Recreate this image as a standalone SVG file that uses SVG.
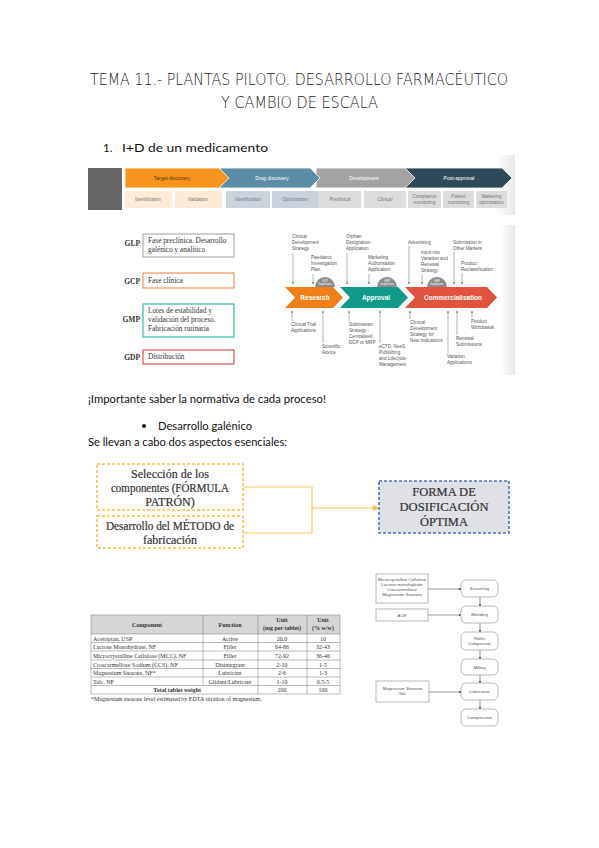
<svg xmlns="http://www.w3.org/2000/svg" width="599" height="848" viewBox="0 0 599 848">
<style>
.title{font-family:"DejaVu Sans",sans-serif;font-size:15px;fill:#222;font-weight:300}
.body{font-family:Lato,"Open Sans",sans-serif;font-size:11.5px;fill:#111}
.ban{font-family:"Liberation Sans",sans-serif;font-size:5px;fill:#fff;text-anchor:middle}
.sub{font-family:"Liberation Sans",sans-serif;font-size:4.6px;fill:#777;text-anchor:middle}
.gl{font-family:"Liberation Serif",serif;font-size:7.5px;font-weight:bold;fill:#333;text-anchor:end}
.gt{font-family:"Liberation Serif",serif;font-size:7.3px;fill:#333}
.rl{font-family:"Liberation Sans",sans-serif;font-size:4.6px;fill:#555}
.rw{font-family:"Liberation Sans",sans-serif;font-size:6.5px;font-weight:bold;fill:#fff;text-anchor:middle}
.ins{font-family:"Liberation Sans",sans-serif;font-size:2.6px;fill:#fff;text-anchor:middle}
.rline{stroke:#666;stroke-width:0.5;fill:none}
.tm{font-family:"Liberation Serif",serif;font-size:12px;fill:#333;text-anchor:middle;stroke:#333;stroke-width:0.2}
.tf{font-family:"Liberation Serif",serif;font-size:12.5px;fill:#333;text-anchor:middle;stroke:#333;stroke-width:0.2}
.tb{font-family:"Liberation Serif",serif;font-size:6px;fill:#333}
.tbh{font-family:"Liberation Serif",serif;font-size:6px;fill:#333;font-weight:bold;text-anchor:middle}
.fc{font-family:"Liberation Sans",Arial,sans-serif;font-size:4.3px;fill:#555;text-anchor:middle}
.fbox{fill:#fff;stroke:#999;stroke-width:0.7}
.fl{stroke:#555;stroke-width:0.6;fill:none}
</style>
<defs>
<marker id="sa" viewBox="0 0 6 6" refX="5" refY="3" markerWidth="4" markerHeight="4" orient="auto"><path d="M0,0 L6,3 L0,6 z" fill="#666"/></marker>
<marker id="fa" viewBox="0 0 6 6" refX="5" refY="3" markerWidth="4" markerHeight="4" orient="auto"><path d="M0,0 L6,3 L0,6 z" fill="#444"/></marker>
<marker id="ya" viewBox="0 0 6 6" refX="5" refY="3" markerWidth="5" markerHeight="5" orient="auto"><path d="M0,0 L6,3 L0,6 z" fill="#f5c242"/></marker>
<linearGradient id="shade" x1="0" x2="1" y1="0" y2="0"><stop offset="0" stop-color="#fff"/><stop offset="1" stop-color="#e8e8e8"/></linearGradient>
</defs>
<rect width="599" height="848" fill="#fff"/>

<!-- Title -->
<text class="title" x="299" y="85" text-anchor="middle" textLength="418" lengthAdjust="spacingAndGlyphs">TEMA 11.- PLANTAS PILOTO. DESARROLLO FARMACÉUTICO</text>
<text class="title" x="299.5" y="108" text-anchor="middle" textLength="157" lengthAdjust="spacingAndGlyphs">Y CAMBIO DE ESCALA</text>

<text class="body" x="103" y="152">1.</text>
<text class="body" x="122" y="152" textLength="146" lengthAdjust="spacingAndGlyphs">I+D de un medicamento</text>

<!-- Banner -->
<g id="banner">
<rect x="495" y="155" width="20" height="60" fill="url(#shade)"/>
<rect x="88" y="168" width="34" height="42" fill="#666"/>
<polygon points="405,168 502,168 512,178 502,188 405,188" fill="#2e4a5a" stroke="#fff" stroke-width="0.8"/>
<polygon points="316,168 405,168 415,178 405,188 316,188" fill="#a3a3a3" stroke="#fff" stroke-width="0.8"/>
<polygon points="220,168 310,168 320,178 310,188 220,188" fill="#5d8ca6" stroke="#fff" stroke-width="0.8"/>
<polygon points="125,168 219,168 229,178 219,188 125,188" fill="#f7941d" stroke="#fff" stroke-width="0.8"/>
<text class="ban" x="172" y="180" style="fill:#5a3a10">Target discovery</text>
<text class="ban" x="272" y="180">Drug discovery</text>
<text class="ban" x="364" y="180">Development</text>
<text class="ban" x="459" y="180">Post-approval</text>
<rect x="125" y="191" width="47" height="17" fill="#fdebd8"/>
<rect x="175" y="191" width="47" height="17" fill="#fdebd8"/>
<rect x="226" y="191" width="44" height="17" fill="#c9d3de"/>
<rect x="272" y="191" width="46" height="17" fill="#c9d3de"/>
<rect x="318" y="191" width="43" height="17" fill="#dcdcdc"/>
<rect x="364" y="191" width="42" height="17" fill="#dcdcdc"/>
<rect x="408" y="191" width="33" height="17" fill="#dcdcdc"/>
<rect x="443" y="191" width="31" height="17" fill="#dcdcdc"/>
<rect x="476" y="191" width="31" height="17" fill="#dcdcdc"/>
<text class="sub" x="148" y="201">Identification</text>
<text class="sub" x="198" y="201">Validation</text>
<text class="sub" x="248" y="201">Identification</text>
<text class="sub" x="295" y="201">Optimization</text>
<text class="sub" x="340" y="201">Preclinical</text>
<text class="sub" x="385" y="201">Clinical</text>
<text class="sub" x="424.5" y="198">Compliance</text><text class="sub" x="424.5" y="203.5">monitoring</text>
<text class="sub" x="458.5" y="198">Patient</text><text class="sub" x="458.5" y="203.5">monitoring</text>
<text class="sub" x="491.5" y="198">Marketing</text><text class="sub" x="491.5" y="203.5">optimization</text>
</g>

<!-- GxP boxes -->
<g id="gxp">
<text class="gl" x="140" y="246">GLP</text>
<rect x="143" y="234" width="91" height="23" fill="#fff" stroke="#b5b5b5" stroke-width="1.3"/>
<text class="gt" x="148" y="243">Fase preclínica. Desarrollo</text>
<text class="gt" x="148" y="252">galénico y analítico</text>
<text class="gl" x="140" y="284">GCP</text>
<rect x="143" y="273" width="91" height="15" fill="#fff" stroke="#f19a6c" stroke-width="1.3"/>
<text class="gt" x="148" y="283">Fase clínica</text>
<text class="gl" x="140" y="322">GMP</text>
<rect x="143" y="304" width="91" height="33" fill="#fff" stroke="#48bfae" stroke-width="1.3"/>
<text class="gt" x="148" y="313">Lotes de estabilidad y</text>
<text class="gt" x="148" y="322">validación del proceso.</text>
<text class="gt" x="148" y="331">Fabricación rutinaria</text>
<text class="gl" x="140" y="360">GDP</text>
<rect x="143" y="350" width="91" height="14" fill="#fff" stroke="#d9605a" stroke-width="1.3"/>
<text class="gt" x="148" y="359">Distribución</text>
</g>

<!-- Regulatory lifecycle -->
<g id="lifecycle">
<rect x="500" y="225" width="15" height="150" fill="url(#shade)"/>
<path d="M315,287 a10,10 0 0 1 20,0 z" fill="#8c8c8c"/>
<path d="M377,287 a10,10 0 0 1 20,0 z" fill="#8c8c8c"/>
<path d="M427,287 a10,10 0 0 1 20,0 z" fill="#8c8c8c"/>
<text class="ins" x="325" y="282">GCP</text><text class="ins" x="325" y="285">Inspections</text>
<text class="ins" x="387" y="282">GMP</text><text class="ins" x="387" y="285">Inspections</text>
<text class="ins" x="437" y="282">GMP</text><text class="ins" x="437" y="285">Inspections</text>
<polygon points="285,287 333,287 343,297.5 333,308 285,308 295,297.5" fill="#f07f1a"/>
<polygon points="340,287 398,287 408,297.5 398,308 340,308 350,297.5" fill="#0f9a8b"/>
<polygon points="405,287 487,287 497,297.5 487,308 405,308 415,297.5" fill="#e1523f"/>
<text class="rw" x="315" y="300">Research</text>
<text class="rw" x="376" y="300">Approval</text>
<text class="rw" x="453" y="300">Commercialisation</text>

<text class="rl" x="292" y="238">Clinical</text><text class="rl" x="292" y="244">Development</text><text class="rl" x="292" y="250">Strategy</text>
<line class="rline" x1="293" y1="253" x2="293" y2="284" marker-end="url(#sa)"/>
<text class="rl" x="311" y="259">Paediatric</text><text class="rl" x="311" y="265">Investigation</text><text class="rl" x="311" y="271">Plan</text>
<line class="rline" x1="313" y1="274" x2="313" y2="284" marker-end="url(#sa)"/>
<text class="rl" x="346" y="238">Orphan</text><text class="rl" x="346" y="244">Designation</text><text class="rl" x="346" y="250">Application</text>
<line class="rline" x1="347" y1="253" x2="347" y2="284" marker-end="url(#sa)"/>
<text class="rl" x="368" y="259">Marketing</text><text class="rl" x="368" y="265">Authorisation</text><text class="rl" x="368" y="271">Application</text>
<line class="rline" x1="369" y1="274" x2="369" y2="284" marker-end="url(#sa)"/>
<text class="rl" x="408" y="244">Advertising</text>
<line class="rline" x1="409" y1="246" x2="409" y2="284" marker-end="url(#sa)"/>
<text class="rl" x="421" y="254">Input into</text><text class="rl" x="421" y="260">Variation and</text><text class="rl" x="421" y="266">Renewal</text><text class="rl" x="421" y="272">Strategy</text>
<line class="rline" x1="422" y1="275" x2="422" y2="284" marker-end="url(#sa)"/>
<text class="rl" x="453" y="244">Submission in</text><text class="rl" x="453" y="250">Other Markets</text>
<line class="rline" x1="454" y1="252" x2="454" y2="284" marker-end="url(#sa)"/>
<text class="rl" x="461" y="265">Product</text><text class="rl" x="461" y="271">Reclassification</text>
<line class="rline" x1="462" y1="273" x2="462" y2="284" marker-end="url(#sa)"/>

<line class="rline" x1="292" y1="321" x2="292" y2="311" marker-end="url(#sa)"/>
<text class="rl" x="291" y="326">Clinical Trial</text><text class="rl" x="291" y="332">Applications</text>
<line class="rline" x1="323" y1="343" x2="323" y2="311" marker-end="url(#sa)"/>
<text class="rl" x="322" y="348">Scientific</text><text class="rl" x="322" y="354">Advice</text>
<line class="rline" x1="349" y1="321" x2="349" y2="311" marker-end="url(#sa)"/>
<text class="rl" x="349" y="326">Submission</text><text class="rl" x="349" y="332">Strategy -</text><text class="rl" x="349" y="338">Centralised,</text><text class="rl" x="349" y="344">DCP or MRP</text>
<line class="rline" x1="380" y1="343" x2="380" y2="311" marker-end="url(#sa)"/>
<text class="rl" x="379" y="348">eCTD, NeeS</text><text class="rl" x="379" y="354">Publishing</text><text class="rl" x="379" y="360">and Lifecycle</text><text class="rl" x="379" y="366">Management</text>
<line class="rline" x1="410" y1="319" x2="410" y2="311" marker-end="url(#sa)"/>
<text class="rl" x="410" y="324">Clinical</text><text class="rl" x="410" y="330">Development</text><text class="rl" x="410" y="336">Strategy for</text><text class="rl" x="410" y="342">New Indications</text>
<line class="rline" x1="448" y1="353" x2="448" y2="311" marker-end="url(#sa)"/>
<text class="rl" x="447" y="358">Variation</text><text class="rl" x="447" y="364">Applications</text>
<line class="rline" x1="457" y1="335" x2="457" y2="311" marker-end="url(#sa)"/>
<text class="rl" x="456" y="340">Renewal</text><text class="rl" x="456" y="346">Submissions</text>
<line class="rline" x1="472" y1="318" x2="472" y2="311" marker-end="url(#sa)"/>
<text class="rl" x="471" y="323">Product</text><text class="rl" x="471" y="329">Withdrawal</text>
</g>

<text class="body" x="88" y="403" textLength="238" lengthAdjust="spacingAndGlyphs">¡Importante saber la normativa de cada proceso!</text>
<circle cx="144" cy="426" r="2" fill="#111"/>
<text class="body" x="158" y="430" textLength="94" lengthAdjust="spacingAndGlyphs">Desarrollo galénico</text>
<text class="body" x="88" y="446" textLength="199" lengthAdjust="spacingAndGlyphs">Se llevan a cabo dos aspectos esenciales:</text>

<!-- Galenic development -->
<g id="connectors">
<path d="M243,487 H312 V533 H243" fill="none" stroke="#f7ca55" stroke-width="1.2"/>
<line x1="312" y1="508" x2="378" y2="508" stroke="#f7ca55" stroke-width="1.2" marker-end="url(#ya)"/>
</g>
<g id="n-seleccion">
<rect x="97" y="464" width="146" height="46" fill="#fff" stroke="#f5c242" stroke-width="1.6" stroke-dasharray="3,2"/>
<text class="tm" x="170" y="478">Selección de los</text>
<text class="tm" x="170" y="492" textLength="118" lengthAdjust="spacingAndGlyphs">componentes (FÓRMULA</text>
<text class="tm" x="170" y="506">PATRÓN)</text>
</g>
<g id="n-metodo">
<rect x="97" y="516" width="146" height="32" fill="#fff" stroke="#f5c242" stroke-width="1.6" stroke-dasharray="3,2"/>
<text class="tm" x="170" y="530" textLength="128" lengthAdjust="spacingAndGlyphs">Desarrollo del MÉTODO de</text>
<text class="tm" x="170" y="544">fabricación</text>
</g>
<g id="n-forma">
<rect x="379" y="481" width="130" height="52" fill="#dfe1e7" stroke="#4a72c4" stroke-width="1.6" stroke-dasharray="3,2"/>
<text class="tf" x="444" y="496">FORMA DE</text>
<text class="tf" x="444" y="511" textLength="89" lengthAdjust="spacingAndGlyphs">DOSIFICACIÓN</text>
<text class="tf" x="444" y="526">ÓPTIMA</text>
</g>

<!-- Table -->
<g id="table">
<rect x="91" y="615" width="249" height="19" fill="#d6d6d6"/>
<g stroke="#777" stroke-width="0.5" fill="none">
<rect x="91" y="615" width="249" height="79"/>
<line x1="91" y1="634" x2="340" y2="634"/>
<line x1="91" y1="642.5" x2="340" y2="642.5"/>
<line x1="91" y1="651" x2="340" y2="651"/>
<line x1="91" y1="660" x2="340" y2="660"/>
<line x1="91" y1="668.5" x2="340" y2="668.5"/>
<line x1="91" y1="677" x2="340" y2="677"/>
<line x1="91" y1="685.5" x2="340" y2="685.5"/>
<line x1="203" y1="615" x2="203" y2="685.5"/>
<line x1="258" y1="615" x2="258" y2="694"/>
<line x1="307" y1="615" x2="307" y2="694"/>
</g>
<text class="tbh" x="147" y="627">Component</text>
<text class="tbh" x="230" y="627">Function</text>
<text class="tbh" x="282" y="622">Unit</text><text class="tbh" x="282" y="630">(mg per tablet)</text>
<text class="tbh" x="323" y="622">Unit</text><text class="tbh" x="323" y="630">(% w/w)</text>
<g class="tb">
<text x="93" y="640.5">Acetriptan, USP</text>
<text x="93" y="649">Lactose Monohydrate, NF</text>
<text x="93" y="657.5">Microcrystalline Cellulose (MCC), NF</text>
<text x="93" y="666.5">Croscarmellose Sodium (CCS), NF</text>
<text x="93" y="675">Magnesium Stearate, NF*</text>
<text x="93" y="683.5">Talc, NF</text>
<text x="201" y="692" text-anchor="end" font-weight="bold">Total tablet weight</text>
</g>
<g class="tb" text-anchor="middle">
<text x="230" y="640.5">Active</text>
<text x="230" y="649">Filler</text>
<text x="230" y="657.5">Filler</text>
<text x="230" y="666.5">Disintegrant</text>
<text x="230" y="675">Lubricant</text>
<text x="230" y="683.5">Glidant/Lubricant</text>
<text x="282" y="640.5">20.0</text>
<text x="282" y="649">64-86</text>
<text x="282" y="657.5">72-92</text>
<text x="282" y="666.5">2-10</text>
<text x="282" y="675">2-6</text>
<text x="282" y="683.5">1-10</text>
<text x="282" y="692">200</text>
<text x="323" y="640.5">10</text>
<text x="323" y="649">32-43</text>
<text x="323" y="657.5">36-46</text>
<text x="323" y="666.5">1-5</text>
<text x="323" y="675">1-3</text>
<text x="323" y="683.5">0.5-5</text>
<text x="323" y="692">100</text>
</g>
<text class="tb" x="91" y="701">*Magnesium stearate level estimated by EDTA titration of magnesium.</text>
</g>

<!-- Process flowchart -->
<g id="flow-connectors">
<line class="fl" x1="428" y1="589" x2="461" y2="589" marker-end="url(#fa)"/>
<line class="fl" x1="428" y1="615" x2="461" y2="615" marker-end="url(#fa)"/>
<line class="fl" x1="429" y1="692" x2="461" y2="692" marker-end="url(#fa)"/>
<line class="fl" x1="480" y1="597" x2="480" y2="606" marker-end="url(#fa)"/>
<line class="fl" x1="480" y1="623" x2="480" y2="632" marker-end="url(#fa)"/>
<line class="fl" x1="480" y1="650" x2="480" y2="659" marker-end="url(#fa)"/>
<line class="fl" x1="480" y1="675" x2="480" y2="683" marker-end="url(#fa)"/>
<line class="fl" x1="480" y1="700" x2="480" y2="709" marker-end="url(#fa)"/>
</g>
<g id="f-inputs"><rect class="fbox" x="376" y="574" width="52" height="29"/>
<text class="fc" x="402" y="581">Microcrystalline Cellulose</text><text class="fc" x="402" y="586">Lactose monohydrate</text><text class="fc" x="402" y="591">Croscarmellose</text><text class="fc" x="402" y="596">Magnesium Stearate</text></g>
<g id="f-ace"><rect class="fbox" x="376" y="609" width="52" height="12"/><text class="fc" x="402" y="616.5">ACE</text></g>
<g id="f-lub"><rect class="fbox" x="376" y="681" width="53" height="21"/><text class="fc" x="402.5" y="690">Magnesium Stearate</text><text class="fc" x="402.5" y="695">Talc</text></g>
<g id="f-screening"><rect class="fbox" x="461" y="580" width="37" height="17" rx="5"/><text class="fc" x="479.5" y="590">Screening</text></g>
<g id="f-blending"><rect class="fbox" x="461" y="606" width="37" height="17" rx="5"/><text class="fc" x="479.5" y="616">Blending</text></g>
<g id="f-roller"><rect class="fbox" x="461" y="632" width="37" height="18" rx="5"/><text class="fc" x="479.5" y="640">Roller</text><text class="fc" x="479.5" y="645">Compaction</text></g>
<g id="f-milling"><rect class="fbox" x="461" y="659" width="37" height="16" rx="5"/><text class="fc" x="479.5" y="668.5">Milling</text></g>
<g id="f-lubrication"><rect class="fbox" x="461" y="683" width="37" height="17" rx="5"/><text class="fc" x="479.5" y="693">Lubrication</text></g>
<g id="f-compression"><rect class="fbox" x="461" y="709" width="37" height="17" rx="5"/><text class="fc" x="479.5" y="719">Compression</text></g>
</svg>
